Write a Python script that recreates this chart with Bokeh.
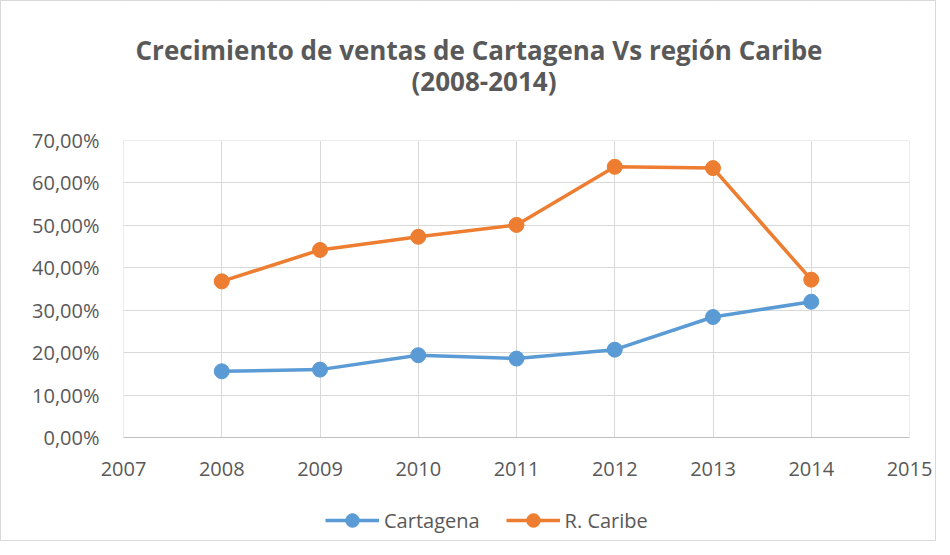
from bokeh.plotting import figure
from bokeh.models import (FixedTicker, CustomJSTickFormatter, Legend, LegendItem, Range1d,
                          BoxAnnotation, Label)
from bokeh.embed import file_html
from bokeh.resources import INLINE

years = [2008, 2009, 2010, 2011, 2012, 2013, 2014]
cartagena = [15.6, 16.0, 19.4, 18.6, 20.7, 28.4, 32.0]
caribe = [36.8, 44.2, 47.3, 50.1, 63.8, 63.5, 37.2]
x_ticks = [2007, 2008, 2009, 2010, 2011, 2012, 2013, 2014, 2015]
y_ticks = [0, 10, 20, 30, 40, 50, 60, 70]
title1 = "Crecimiento de ventas de Cartagena Vs región Caribe"
title2 = "(2008-2014)"

BLUE = "#5b9bd5"
ORANGE = "#ed7d31"
TXT = "#595959"
GRID = "#d9d9d9"
FONT = "Open Sans"

# layout (pixels)
W, H = 934, 539
PLOT_LEFT, PLOT_RIGHT = 122, 908          # pixel columns of 2007 and 2015
PLOT_TOP, PLOT_BOTTOM = 139, 436          # pixel rows of 70 % and 0 %
PX = (PLOT_BOTTOM - PLOT_TOP) / 70.0      # pixels per percentage point
XPX = (PLOT_RIGHT - PLOT_LEFT) / 8.0      # pixels per year
x_lo = 2007 - PLOT_LEFT / XPX
x_hi = 2015 + (W - PLOT_RIGHT) / XPX
y_lo = -(H - PLOT_BOTTOM) / PX
y_hi = 70 + PLOT_TOP / PX

p = figure(frame_width=W, frame_height=H, output_backend="svg",
           toolbar_location=None, title=None,
           x_range=Range1d(x_lo, x_hi), y_range=Range1d(y_lo, y_hi),
           min_border_left=0, min_border_right=0, min_border_top=0,
           min_border_bottom=0)

p.outline_line_color = None
p.xgrid.grid_line_color = GRID
p.ygrid.grid_line_color = GRID
p.xgrid.ticker = FixedTicker(ticks=x_ticks)
p.ygrid.ticker = FixedTicker(ticks=y_ticks)

# white masks so the grid only spans the 2007..2015 x 0 %..70 % area
for kw in (dict(bottom=70), dict(top=0), dict(right=2007), dict(left=2015)):
    p.add_layout(BoxAnnotation(fill_color="white", fill_alpha=1,
                               line_color=None, level="glyph", **kw))

p.xaxis.fixed_location = 0
p.yaxis.fixed_location = 2007
p.xaxis.bounds = (2007, 2015)
p.yaxis.bounds = (0, 70)
p.xaxis.ticker = FixedTicker(ticks=x_ticks)
p.yaxis.ticker = FixedTicker(ticks=y_ticks)
p.yaxis.formatter = CustomJSTickFormatter(code="return tick.toFixed(2).replace('.', ',') + '%';")
for ax in (p.xaxis[0], p.yaxis[0]):
    ax.major_tick_line_color = None
    ax.minor_tick_line_color = None
    ax.major_label_text_font = FONT
    ax.major_label_text_font_size = "20px"
    ax.major_label_text_color = TXT
p.xaxis.axis_line_color = "#bfbfbf"
p.yaxis.axis_line_color = None
p.xaxis.major_label_standoff = 18
p.yaxis.major_label_standoff = 18

l1 = p.line(years, cartagena, line_color=BLUE, line_width=3.5)
s1 = p.scatter(years, cartagena, size=15, fill_color=BLUE, line_color=BLUE)
l2 = p.line(years, caribe, line_color=ORANGE, line_width=3.5)
s2 = p.scatter(years, caribe, size=15, fill_color=ORANGE, line_color=ORANGE)

# titles (centred on the whole chart, not on the plot area)
cx1 = 2007 + (477.5 - PLOT_LEFT) / XPX
cx2 = 2007 + (482.5 - PLOT_LEFT) / XPX
for txt, cx, row in ((title1, cx1, 48), (title2, cx2, 79)):
    p.add_layout(Label(x=cx, y=70 + (PLOT_TOP - row) / PX, text=txt,
                       text_align="center", text_baseline="middle",
                       text_font=FONT, text_font_size="26px", text_font_style="bold",
                       text_color=TXT))

legend = Legend(items=[LegendItem(label="Cartagena", renderers=[l1, s1]),
                       LegendItem(label="R. Caribe", renderers=[l2, s2])],
                orientation="horizontal", location=(324, 3), padding=0, margin=0,
                label_text_font=FONT, label_text_font_size="20px",
                label_text_color=TXT, glyph_width=54, glyph_height=34,
                label_standoff=5, spacing=26,
                background_fill_alpha=0, border_line_color=None)
p.add_layout(legend)

p.styles = {"border": "1px solid #d9d9d9"}

open("out.html", "w").write(file_html(p, INLINE))
